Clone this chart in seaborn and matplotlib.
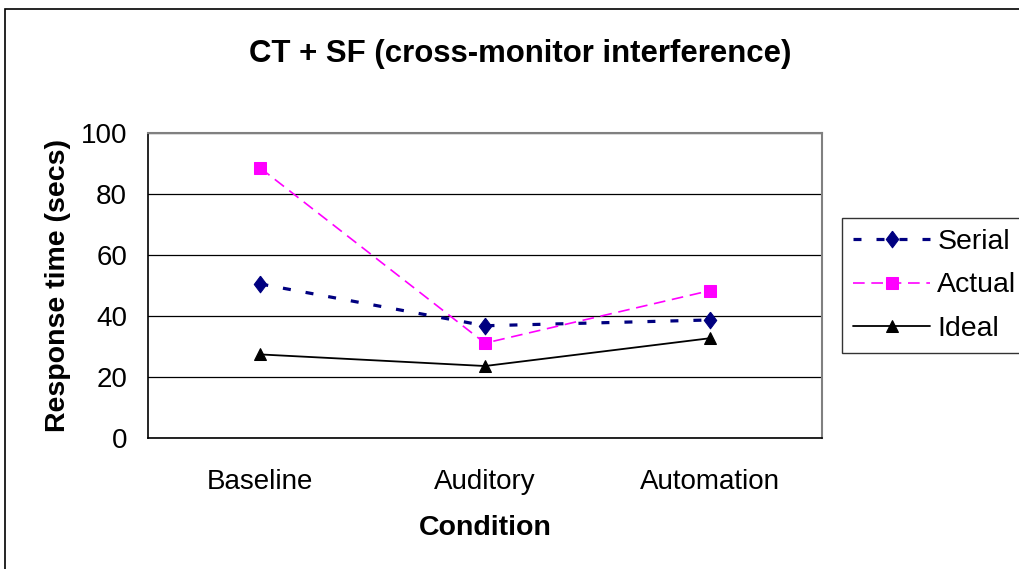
# CT + SF response time chart (Excel style line chart)
import numpy as np
import pandas as pd
import matplotlib
matplotlib.use("Agg")
import matplotlib.pyplot as plt
import seaborn as sns
from matplotlib.patches import Rectangle

# --------------------------------------------
# Data
# --------------------------------------------
conditions = ["Baseline", "Auditory", "Automation"]
serial = [50.5, 36.8, 38.7]
actual = [88.5, 31.1, 48.3]
ideal = [27.4, 23.6, 32.7]
y_ticks = [0, 20, 40, 60, 80, 100]

df = pd.DataFrame({
    "pos": np.arange(len(conditions)),
    "Serial": serial,
    "Actual": actual,
    "Ideal": ideal,
})

# --------------------------------------------
# Settings
# --------------------------------------------
sns.set_theme(style="white")
plt.rcParams["font.family"] = ["Liberation Sans", "DejaVu Sans"]
for key in ["text.color", "axes.labelcolor", "xtick.color", "ytick.color"]:
    plt.rcParams[key] = "black"

fig = plt.figure(figsize=(10.19, 5.69), dpi=100)
ax = fig.add_axes([148 / 1019, 1 - 438 / 569, 674 / 1019, 305 / 569])

# Excel-like fat diamond marker
diamond = [(0, 1), (0.75, 0), (0, -1), (-0.75, 0), (0, 1)]

styles = {
    "Serial": dict(color="#000080", lw=2.3, dashes=(2.5, 4.7), marker=diamond, ms=12),
    "Actual": dict(color="#FF00FF", lw=1.2, dashes=(7, 4), marker="s", ms=8),
    "Ideal": dict(color="black", lw=1.3, dashes=None, marker="^", ms=9),
}

for name, st in styles.items():
    line_kws = dict(color=st["color"], linewidth=st["lw"], marker=st["marker"],
                    markersize=st["ms"], markeredgecolor=st["color"],
                    markerfacecolor=st["color"], label=name)
    sns.lineplot(data=df, x="pos", y=name, ax=ax, **line_kws)
    if st["dashes"] is not None:
        ax.lines[-1].set_dashes(st["dashes"])

# --------------------------------------------
# Axes styling
# --------------------------------------------
ax.set_xlim(-0.5, 2.5)
ax.set_ylim(0, 100)
ax.set_yticks(y_ticks)
ax.set_yticklabels([str(t) for t in y_ticks], fontsize=20)
ax.set_xticks(np.arange(len(conditions)))
ax.set_xticklabels(conditions, fontsize=20)
ax.set_xticks([-0.5, 0.5, 1.5, 2.5], minor=True)
ax.tick_params(axis="x", which="major", length=0, pad=22)
ax.tick_params(axis="x", which="minor", length=6, width=1, color="black", direction="out")
ax.tick_params(axis="y", length=6, width=1, color="black", direction="out", pad=9)
ax.yaxis.grid(True, color="black", linewidth=0.9)
ax.set_axisbelow(True)

for side in ["top", "right"]:
    ax.spines[side].set_color("#808080")
    ax.spines[side].set_linewidth(1.5)
for side in ["left", "bottom"]:
    ax.spines[side].set_color("black")
    ax.spines[side].set_linewidth(1.2)

ax.set_xlabel("Condition", fontsize=20.5, fontweight="bold", labelpad=15)
ax.set_ylabel("Response time (secs)", fontsize=20.5, fontweight="bold", labelpad=7)

fig.text(520 / 1019, 1 - 54 / 569, "CT + SF (cross-monitor interference)",
         ha="center", va="center", fontsize=22.4, fontweight="bold")

leg = ax.legend(loc="upper left", bbox_to_anchor=(842 / 1019, 1 - 218 / 569),
                bbox_transform=fig.transFigure, frameon=True, fancybox=False,
                fontsize=20.5, handlelength=2.7, borderaxespad=0, labelspacing=0.6,
                borderpad=0.4, handletextpad=0.25)
leg.get_frame().set_edgecolor("black")
leg.get_frame().set_linewidth(1.0)

# Chart area border
fig.patches.append(Rectangle((5 / 1019, -0.01), 1.0, 1 - 9 / 569 + 0.01,
                             transform=fig.transFigure, fill=False,
                             edgecolor="black", linewidth=1.2))

fig.savefig("out.png", dpi=100)
